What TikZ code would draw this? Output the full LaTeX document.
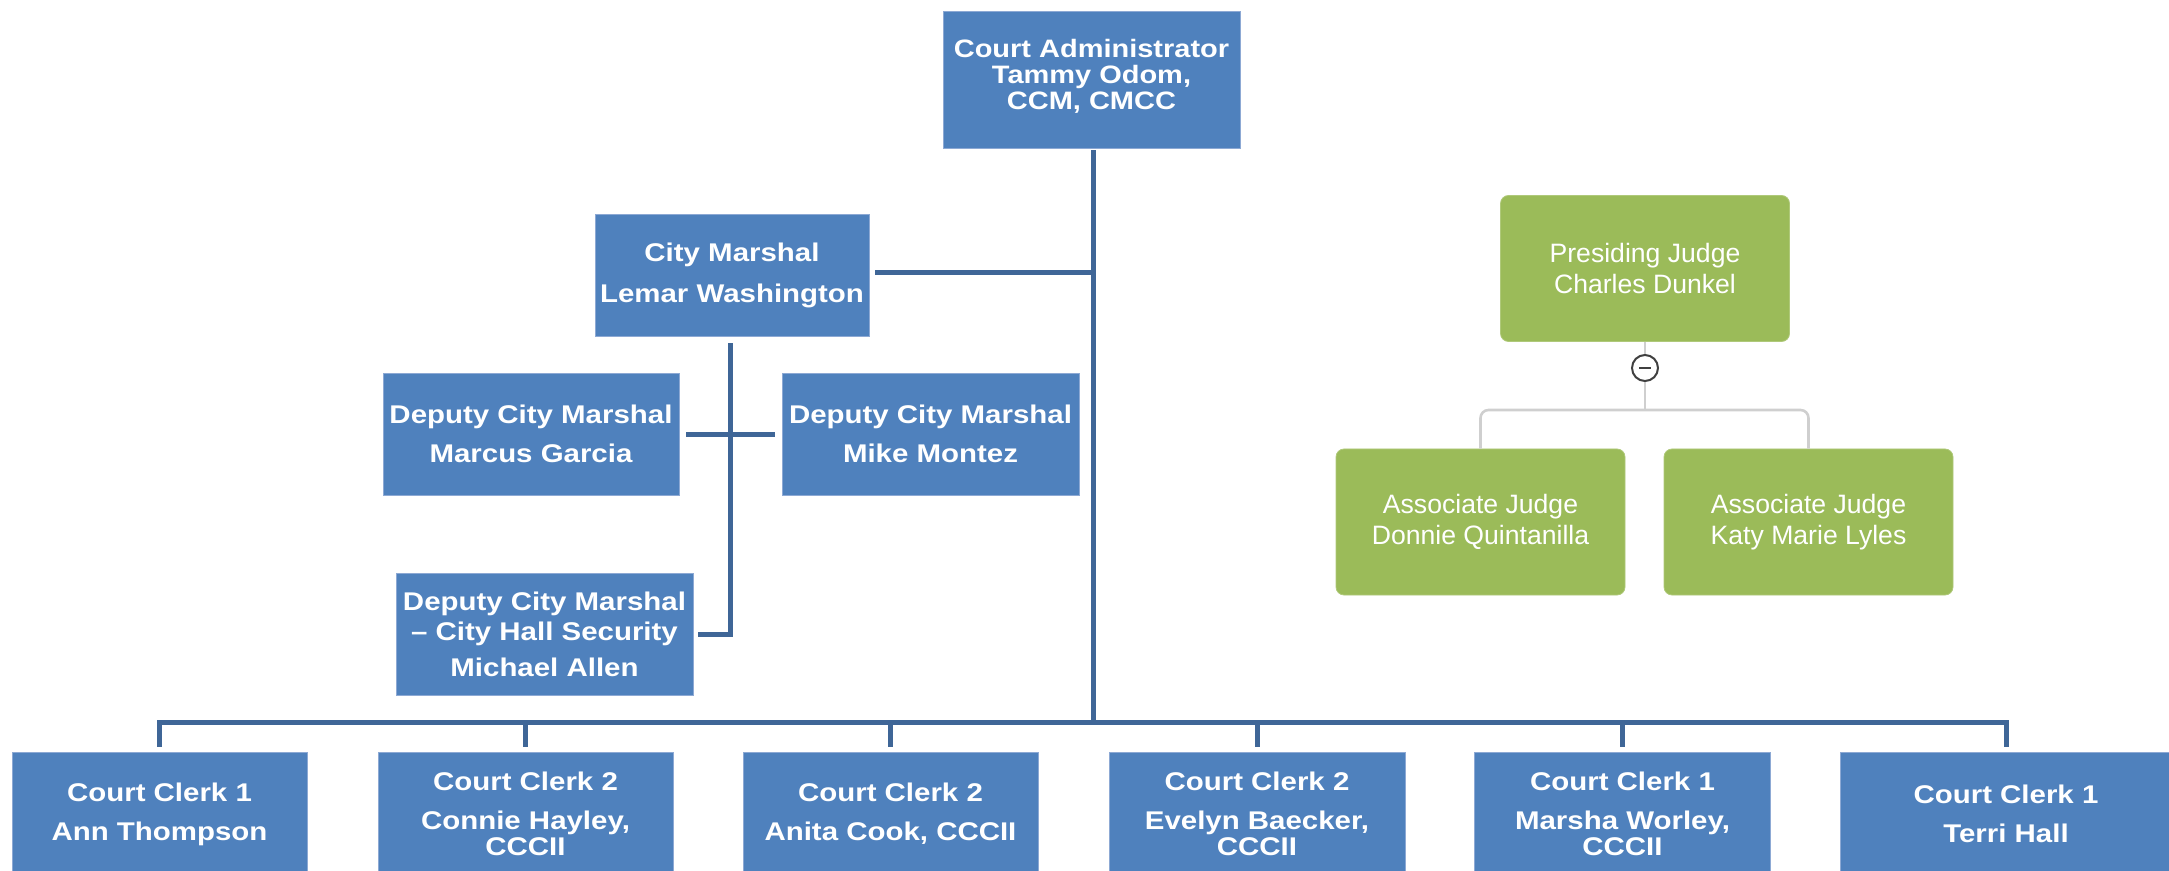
\documentclass[tikz,border=0pt]{standalone}
\usepackage{fontspec}
\setmainfont{Liberation Sans}
\newfontfamily\bluefont[FakeStretch=1.15]{Liberation Sans}
\usetikzlibrary{calc}
\definecolor{boxblue}{HTML}{4F81BD}
\definecolor{boxedge}{HTML}{8DA9D4}
\definecolor{linkblue}{HTML}{3F6697}
\definecolor{boxgreen}{HTML}{9BBB59}
\definecolor{linkgray}{HTML}{CFCFCF}
\tikzset{
  bluebox/.style={draw=boxedge, line width=0.4pt, fill=boxblue, text=white, align=center,
    inner sep=0pt, font=\bluefont\bfseries\fontsize{12.8}{13}\selectfont},
  greenbox/.style={draw=boxgreen!80!white, line width=0.4pt, fill=boxgreen, text=white, align=center,
    rounded corners=4pt, inner sep=0pt, minimum width=144.5pt, minimum height=73pt,
    font=\fontsize{13.3}{15.2}\selectfont},
  conn/.style={draw=linkblue, line width=2.5pt},
  gconn/.style={draw=linkgray, line width=1.3pt, rounded corners=4pt},
}
\begin{document}
\begin{tikzpicture}[x=0.5pt, y=-0.5pt]
\useasboundingbox (0,0) rectangle (2169,871);
\begin{scope}
\clip (0,0) rectangle (2169,871);
% top
\node[bluebox, minimum width=148.5pt, minimum height=68.5pt, font=\bluefont\bfseries\fontsize{12.6}{13}\selectfont] (top) at (1091.5,79.5)
  {Court Administrator\\Tammy Odom,\\CCM, CMCC\\[-7.4pt]\mbox{}};
% city marshal
\node[bluebox, minimum width=137pt, minimum height=61pt] (cm) at (732,275)
  {City Marshal\\[7.5pt]Lemar Washington};
\node[bluebox, minimum width=148pt, minimum height=61pt] (mg) at (531,434)
  {Deputy City Marshal\\[6.5pt]Marcus Garcia};
\node[bluebox, minimum width=148.5pt, minimum height=61pt] (mm) at (930.5,434)
  {Deputy City Marshal\\[6.5pt]Mike Montez};
\node[bluebox, minimum width=148.5pt, minimum height=61pt] (ma) at (544.5,634)
  {Deputy City Marshal\\[2pt]– City Hall Security\\[5pt]Michael Allen};
% clerks
\node[bluebox, minimum width=147.5pt, minimum height=62pt] (c1) at (159.5,814)
  {Court Clerk 1\\[6.5pt]Ann Thompson};
\node[bluebox, minimum width=147.5pt, minimum height=62pt] (c2) at (525.5,814)
  {Court Clerk 2\\[6.5pt]Connie Hayley,\\CCCII};
\node[bluebox, minimum width=147.5pt, minimum height=62pt] (c3) at (890.5,814)
  {Court Clerk 2\\[6.5pt]Anita Cook, CCCII};
\node[bluebox, minimum width=148pt, minimum height=62pt] (c4) at (1257,814)
  {Court Clerk 2\\[6.5pt]Evelyn Baecker,\\CCCII};
\node[bluebox, minimum width=148pt, minimum height=62pt] (c5) at (1622.5,814)
  {Court Clerk 1\\[6.5pt]Marsha Worley,\\CCCII};
\node[bluebox, minimum width=166pt, minimum height=62pt] (c6) at (2006,814)
  {Court Clerk 1\\[6.5pt]Terri Hall};
% blue connectors
\coordinate (hub) at (1093,722);
\coordinate (cmj) at (1093,273);
\draw[conn] ([yshift=-1pt]top.south -| hub) -- (hub);
\draw[conn] ($(cm.east)+(6,-2)$) -- (cmj);
\draw[conn, line cap=rect] (c1.north |- hub) -- (c6.north |- hub);
\foreach \c in {c1,c2,c3,c4,c5,c6}{
  \draw[conn] (\c.north |- hub) -- ($(\c.north)+(0,-5)$);
}
\coordinate (mj) at (730,634);
\draw[conn] ($(cm.south)+(-2,7)$) -- (mj) -- ($(ma.east)+(5,0)$);
\draw[conn] ($(mg.east)+(7,1)$) -- ($(mm.west)+(-7,1)$);
% green part
\node[greenbox] (pj) at (1645,268.5) {Presiding Judge\\Charles Dunkel};
\node[greenbox] (aj1) at (1480.5,522) {Associate Judge\\Donnie Quintanilla};
\node[greenbox] (aj2) at (1808.5,522) {Associate Judge\\Katy Marie Lyles};
\node[circle, draw=black!75, line width=1pt, fill=white, minimum size=13pt, inner sep=0pt] (tog) at (1645,368) {};
\coordinate (gj) at (1645,410);
\draw[gconn] (pj.south) -- (tog.north);
\draw[gconn] (tog.south) -- (gj);
\draw[gconn] (aj1.north) -- (aj1.north |- gj) -- (aj2.north |- gj) -- (aj2.north);
\draw[black!75, line width=1.2pt] ($(tog.center)+(-6,0)$) -- ($(tog.center)+(6,0)$);
\end{scope}
\end{tikzpicture}
\end{document}
